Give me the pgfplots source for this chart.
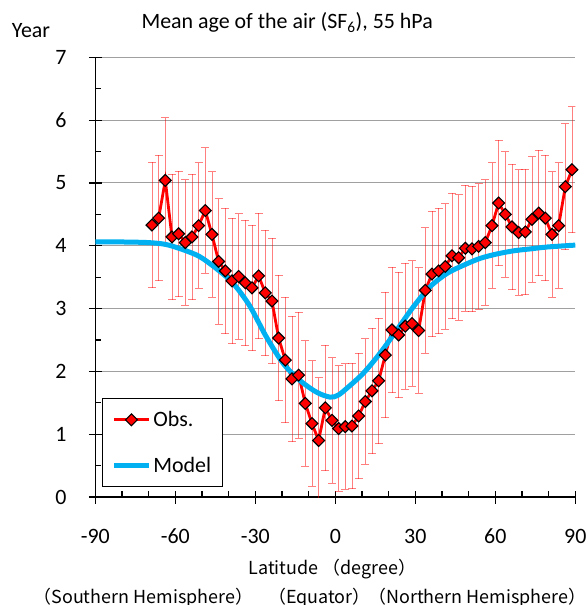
\documentclass[border=0pt]{standalone}
\usepackage{fontspec}
\setmainfont{Carlito}
\newfontfamily\cjk{Noto Sans CJK JP}
\usepackage{pgfplots}
\pgfplotsset{compat=1.18}
\usepackage{pgfplotstable}
\definecolor{obsred}{RGB}{255,0,0}
\definecolor{modelblue}{RGB}{0,176,240}
\definecolor{gridgray}{RGB}{160,160,160}

\pgfplotstableread{
lat val err
-68.75 4.33 1.0
-66.25 4.44 1.0
-63.75 5.04 1.0
-61.25 4.14 1.0
-58.75 4.19 1.0
-56.25 4.05 1.0
-53.75 4.14 1.0
-51.25 4.32 1.0
-48.75 4.56 1.0
-46.25 4.18 1.0
-43.75 3.75 1.0
-41.25 3.60 1.0
-38.75 3.44 1.0
-36.25 3.51 1.0
-33.75 3.41 1.0
-31.25 3.33 1.0
-28.75 3.52 1.0
-26.25 3.25 1.0
-23.75 3.12 1.0
-21.25 2.53 1.0
-18.75 2.18 1.0
-16.25 1.88 1.0
-13.75 1.94 1.0
-11.25 1.49 1.0
-8.75 1.17 1.0
-6.25 0.90 1.0
-3.75 1.42 1.0
-1.25 1.22 1.0
1.25 1.09 1.0
3.75 1.12 1.0
6.25 1.13 1.0
8.75 1.29 1.0
11.25 1.52 1.0
13.75 1.69 1.0
16.25 1.85 1.0
18.75 2.26 1.0
21.25 2.66 1.0
23.75 2.58 1.0
26.25 2.72 1.0
28.75 2.76 1.0
31.25 2.65 1.0
33.75 3.29 1.0
36.25 3.55 1.0
38.75 3.60 1.0
41.25 3.67 1.0
43.75 3.84 1.0
46.25 3.81 1.0
48.75 3.96 1.0
51.25 3.95 1.0
53.75 3.99 1.0
56.25 4.05 1.0
58.75 4.32 1.0
61.25 4.68 1.0
63.75 4.50 1.0
66.25 4.30 1.0
68.75 4.21 1.0
71.25 4.22 1.0
73.75 4.42 1.0
76.25 4.52 1.0
78.75 4.44 1.0
81.25 4.18 1.0
83.75 4.32 1.0
86.25 4.94 1.0
88.75 5.21 1.0
}\obsdata

\pgfplotstableread{
lat val
-90 4.06
-80 4.06
-70 4.05
-63.5 4.02
-57.3 3.94
-51 3.83
-44.7 3.64
-38.5 3.41
-32.2 3.05
-26 2.56
-19.6 2.13
-13.4 1.86
-7.1 1.67
-2 1.59
1 1.62
4.3 1.73
10.5 1.97
16.8 2.29
23.1 2.66
29.3 3.03
35.6 3.35
41.9 3.56
48.1 3.69
54.4 3.80
60.7 3.87
67 3.92
73.2 3.95
79.5 3.98
90 4.01
}\modeldata

\begin{document}
\begin{tikzpicture}
\path[use as bounding box] (-95.3bp,-108bp) rectangle (492.7bp,497bp);
\begin{axis}[
  at={(0,0)}, anchor=south west,
  scale only axis, width=480bp, height=439.7bp,
  xmin=-90, xmax=90, ymin=0, ymax=7,
  axis lines*=left,
  axis line style={-, line width=1.2bp, black},
  xtick={-90,-60,-30,0,30,60,90},
  xticklabels={-90,-60,-30,0,30,60,90},
  ytick={0,1,2,3,4,5,6,7},
  yticklabels={0,1,2,3,4,5,6,7},
  minor x tick num=2,
  minor y tick num=1,
  tick align=center,
  major tick length=13bp,
  minor tick length=6bp,
  minor x tick style={yshift=3bp},
  minor y tick style={xshift=3bp},
  tick style={black, line width=1.2bp},
  ymajorgrids,
  major grid style={gridgray, line width=0.9bp},
  tick label style={font=\fontsize{22}{26}\selectfont},
  xticklabel style={anchor=center, yshift=-32.5bp, inner sep=0pt},
  yticklabel style={anchor=east, xshift=-22bp, inner sep=0pt},
  legend style={at={(0.014,0.225)}, anchor=north west, draw=black,
    line width=0.8bp, font=\fontsize{22}{26}\selectfont,
    inner xsep=9bp, inner ysep=11bp, row sep=25bp, cells={anchor=west}},
  legend image code/.code={\draw[mark repeat=2, mark phase=2, #1] plot coordinates {(0bp,0bp) (17.5bp,0bp) (35bp,0bp)};},
]
\addplot[obsred, line width=2.8bp, mark=square*, mark size=4.2bp,
  mark options={rotate=45, fill=obsred, draw=black, line width=1.1bp, solid},
  error bars/.cd, y dir=both, y explicit,
  error bar style={red, opacity=0.5, line width=0.9bp},
  error mark options={rotate=90, mark size=4bp, red, opacity=0.5, line width=0.9bp}]
  table[x=lat, y=val, y error=err] {\obsdata};
\addlegendentry{Obs.}
\addplot[modelblue, line width=5bp, smooth, tension=0.5]
  table[x=lat, y=val] {\modeldata};
\addlegendentry{Model}
\end{axis}
\node[anchor=base, font=\fontsize{22}{26}\selectfont] at (-64.3bp,459bp) {Year};
\node[anchor=base west, font=\fontsize{22}{26}\selectfont] at (42.7bp,468bp) {Mean age of the air (SF\textsubscript{6}), 55 hPa};
\node[anchor=base, font=\cjk\fontsize{18}{20}\selectfont] at (237bp,-77bp) {Latitude （degree）};
\node[anchor=base, font=\cjk\fontsize{18}{20}\selectfont] at (48bp,-106bp) {（Southern Hemisphere）};
\node[anchor=base, font=\cjk\fontsize{18}{20}\selectfont] at (224bp,-106bp) {（Equator）};
\node[anchor=base, font=\cjk\fontsize{18}{20}\selectfont] at (382bp,-106bp) {（Northern Hemisphere）};
\end{tikzpicture}
\end{document}
